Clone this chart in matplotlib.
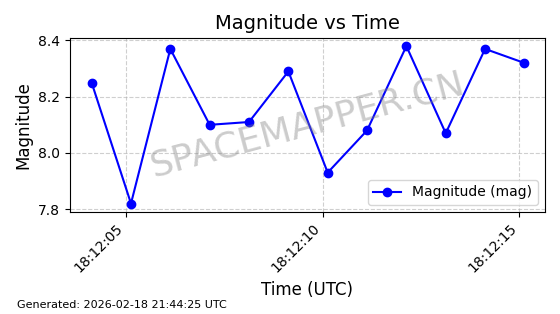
import matplotlib
matplotlib.use("Agg")
import matplotlib.pyplot as plt
import matplotlib.dates as mdates
import pandas as pd

times = pd.date_range("2026-02-18 18:12:04.13", periods=12, freq="1s")
magnitudes = [8.25, 7.82, 8.37, 8.10, 8.11, 8.29, 7.93, 8.08, 8.38, 8.07, 8.37, 8.32]

fig = plt.figure(figsize=(5.6, 3.14), dpi=100)
ax = fig.add_axes([0.125, 0.325, 0.848, 0.555])
ax.plot(times, magnitudes, color="blue", marker="o", markersize=6, linewidth=1.5, label="Magnitude (mag)")
ax.set_title("Magnitude vs Time", fontsize=14)
ax.set_xlabel("Time (UTC)", fontsize=12)
ax.set_ylabel("Magnitude", fontsize=12)
ax.set_ylim(7.79, 8.41)
ax.set_yticks([7.8, 8.0, 8.2, 8.4])
ax.set_xlim(pd.Timestamp("2026-02-18 18:12:03.58"), pd.Timestamp("2026-02-18 18:12:15.65"))
ax.xaxis.set_major_locator(mdates.SecondLocator(bysecond=range(0, 60, 5)))
ax.xaxis.set_major_formatter(mdates.DateFormatter("%H:%M:%S"))
plt.setp(ax.get_xticklabels(), rotation=45, ha="right")
ax.grid(True, linestyle="--", alpha=0.6)
ax.legend(loc="lower right")
ax.text(0.5, 0.5, "SPACEMAPPER.CN", transform=ax.transAxes, fontsize=26, color="gray",
        alpha=0.4, rotation=15, ha="center", va="center")
fig.text(0.03, 0.02, "Generated: 2026-02-18 21:44:25 UTC", fontsize=8)
fig.savefig("out.png", dpi=100)
